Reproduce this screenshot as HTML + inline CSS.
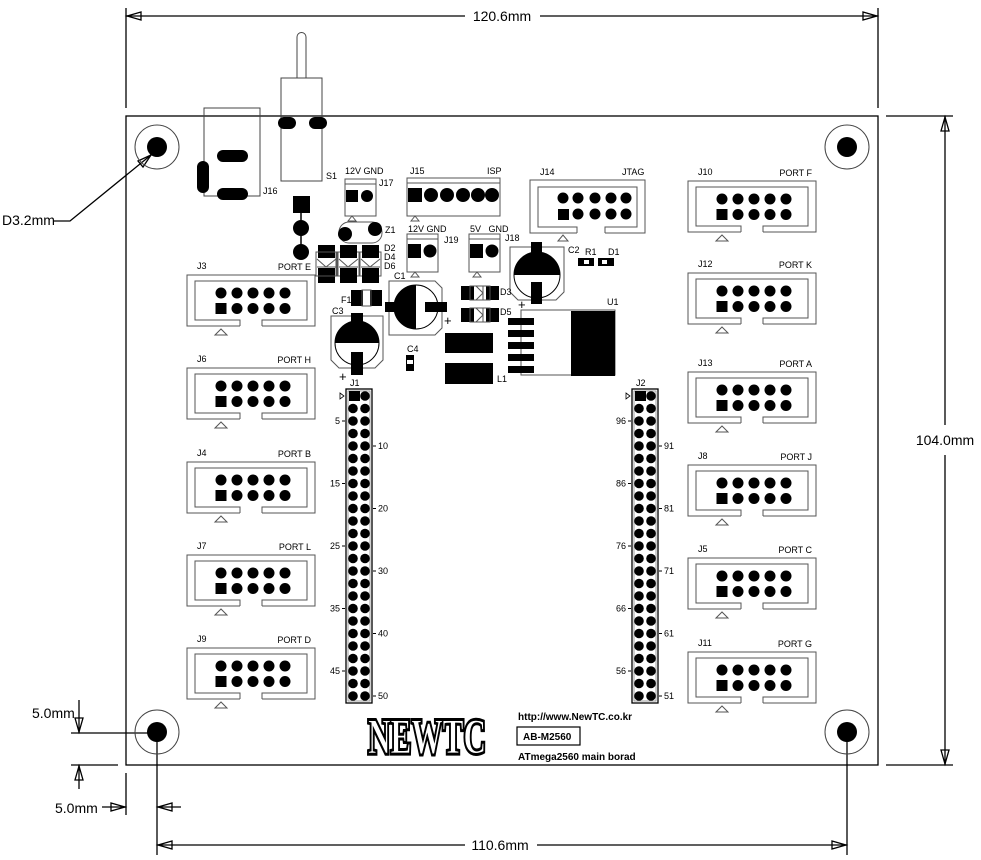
<!DOCTYPE html>
<html><head><meta charset="utf-8"><style>
html,body{margin:0;padding:0;background:#fff;}
svg{display:block;}
text{font-family:"Liberation Sans Narrow","Liberation Sans",sans-serif;fill:#000;}
.s{font-size:9px;}
.d{font-size:14px;}
</style></head><body>
<svg id="sv" width="981" height="860" viewBox="0 0 981 860" xmlns="http://www.w3.org/2000/svg">
<g fill="none" stroke="#000" stroke-width="1.3">
<!-- board -->
<rect x="126" y="116" width="752" height="649"/>
<!-- top dim -->
<line x1="126" y1="8" x2="126" y2="108"/><line x1="878" y1="8" x2="878" y2="108"/>
<line x1="126" y1="16" x2="465" y2="16"/><line x1="540" y1="16" x2="878" y2="16"/>
<path d="M127 16 L141 12 L141 20 Z"/><path d="M877 16 L863 12 L863 20 Z"/>
<!-- right dim -->
<line x1="886" y1="116" x2="953" y2="116"/><line x1="886" y1="765" x2="953" y2="765"/>
<line x1="945" y1="116" x2="945" y2="425"/><line x1="945" y1="455" x2="945" y2="765"/>
<path d="M945 117 L941 131 L949 131 Z"/><path d="M945 764 L941 750 L949 750 Z"/>
<!-- bottom dim -->
<line x1="157" y1="735" x2="157" y2="855"/><line x1="847" y1="735" x2="847" y2="855"/>
<line x1="157" y1="845" x2="465" y2="845"/><line x1="537" y1="845" x2="847" y2="845"/>
<path d="M158 845 L172 841 L172 849 Z"/><path d="M846 845 L832 841 L832 849 Z"/>
<!-- left dims -->
<line x1="71" y1="733" x2="157" y2="733"/><line x1="71" y1="765" x2="118" y2="765"/>
<line x1="79" y1="700" x2="79" y2="733"/><path d="M79 732 L75 718 L83 718 Z"/>
<line x1="79" y1="765" x2="79" y2="789"/><path d="M79 766 L75 780 L83 780 Z"/>
<line x1="126" y1="773" x2="126" y2="815"/>
<line x1="102" y1="807" x2="126" y2="807"/><path d="M125 807 L111 803 L111 811 Z"/>
<line x1="157" y1="807" x2="181" y2="807"/><path d="M158 807 L172 803 L172 811 Z"/>
<!-- D3.2 leader -->
<polyline points="54,221 70,221 151,155"/><path d="M151 155 L138 161 L143 167 Z"/>
</g>
<text class="d" x="502" y="21" text-anchor="middle">120.6mm</text>
<text class="d" x="945" y="445" text-anchor="middle">104.0mm</text>
<text class="d" x="500" y="850" text-anchor="middle">110.6mm</text>
<text class="d" x="32" y="718">5.0mm</text>
<text class="d" x="55" y="813">5.0mm</text>
<text class="d" x="2" y="225">D3.2mm</text>
<!-- holes -->
<g>
<circle cx="157" cy="147" r="22" fill="none" stroke="#444" stroke-width="1"/><circle cx="157" cy="147" r="10"/>
<circle cx="847" cy="147" r="22" fill="none" stroke="#444" stroke-width="1"/><circle cx="847" cy="147" r="10"/>
<circle cx="157" cy="732" r="22" fill="none" stroke="#444" stroke-width="1"/><circle cx="157" cy="732" r="10"/>
<circle cx="847" cy="732" r="22" fill="none" stroke="#444" stroke-width="1"/><circle cx="847" cy="732" r="10"/>
</g>
<!-- S1 -->
<g fill="none" stroke="#444" stroke-width="1">
<path d="M297 78 V37 A4.5 4.5 0 0 1 306 37 V78"/>
<rect x="281" y="78" width="41" height="103"/>
<rect x="204" y="108" width="56" height="88"/>
</g>
<rect x="278" y="117" width="18" height="12" rx="6"/><rect x="309" y="117" width="18" height="12" rx="6"/>
<rect x="217" y="150" width="31" height="12" rx="6"/><rect x="217" y="188" width="31" height="12" rx="6"/>
<rect x="197" y="161" width="12" height="32" rx="6"/>
<text class="s" x="326" y="179">S1</text><text class="s" x="263" y="194">J16</text>
<!-- vertical pads -->
<line x1="301" y1="204" x2="301" y2="251" stroke="#000" stroke-width="1.5"/>
<rect x="293" y="196" width="17" height="17"/><circle cx="301" cy="228" r="8"/><circle cx="301" cy="252" r="8"/>
<!-- J17 -->
<g fill="none" stroke="#555" stroke-width="1">
<rect x="345" y="179" width="31" height="37"/><line x1="345" y1="184" x2="376" y2="184"/>
<path d="M348 221 L352 216 L356 221 Z"/>
<rect x="339" y="222" width="43" height="21" rx="10"/>
<rect x="407" y="178" width="93" height="38"/><line x1="407" y1="183" x2="500" y2="183"/>
<path d="M411 221 L415 216 L419 221 Z"/>
<rect x="407" y="234" width="31" height="38"/><line x1="407" y1="239" x2="438" y2="239"/>
<path d="M411 277 L415 272 L419 277 Z"/>
<rect x="469" y="234" width="31" height="38"/><line x1="469" y1="239" x2="500" y2="239"/>
<path d="M473 277 L477 272 L481 277 Z"/>
</g>
<rect x="346" y="190" width="12" height="12"/><circle cx="367" cy="196" r="6"/>
<circle cx="345" cy="234" r="7"/><circle cx="375" cy="229" r="7"/>
<text class="s" x="345" y="174">12V GND</text><text class="s" x="379" y="186">J17</text><text class="s" x="385" y="233">Z1</text>
<rect x="408" y="188" width="14" height="14"/>
<circle cx="431" cy="195" r="7"/><circle cx="447" cy="195" r="7"/><circle cx="463" cy="195" r="7"/><circle cx="478" cy="195" r="7"/><circle cx="492" cy="195" r="7"/>
<text class="s" x="410" y="174">J15</text><text class="s" x="487" y="174">ISP</text>
<rect x="408" y="244" width="13" height="14"/><circle cx="430" cy="251" r="6.5"/>
<rect x="470" y="244" width="13" height="14"/><circle cx="492" cy="251" r="6.5"/>
<text class="s" x="408" y="232">12V GND</text><text class="s" x="444" y="243">J19</text>
<text class="s" x="470" y="232">5V&#160;&#160;&#160;GND</text><text class="s" x="505" y="241">J18</text>
<!-- D2 D4 D6 -->
<g id="diodes"></g>
<text class="s" x="384" y="251">D2</text><text class="s" x="384" y="260">D4</text><text class="s" x="384" y="269">D6</text>
<!-- J14 -->
<g fill="none" stroke="#555" stroke-width="1">
<path d="M577 233 H530 V180 H645 V233 H605"/>
<path d="M577 233 V227 H538 V187 H637 V227 H605 V233"/>
<path d="M558 241 L563 235 L568 241 Z"/>
</g>
<circle cx="563" cy="198" r="5.5"/><circle cx="578" cy="198" r="5.5"/><circle cx="595" cy="198" r="5.5"/><circle cx="611" cy="198" r="5.5"/><circle cx="626" cy="198" r="5.5"/>
<rect x="558" y="209" width="11" height="11"/><circle cx="578" cy="214" r="5.5"/><circle cx="595" cy="214" r="5.5"/><circle cx="611" cy="214" r="5.5"/><circle cx="626" cy="214" r="5.5"/>
<text class="s" x="540" y="175">J14</text><text class="s" x="622" y="175">JTAG</text>
<!-- C2 -->
<g fill="none" stroke="#555" stroke-width="1">
<path d="M510 247 H564 V292 L556 300 H518 L510 292 Z"/>
<path d="M389 281 H435 L442 288 V328 L435 335 H389 Z"/>
<path d="M331 316 H383 V360 L375 368 H339 L331 360 Z"/>
<rect x="521" y="310" width="94" height="65"/>
<rect x="316" y="252" width="20" height="24"/>
</g>
<circle cx="537" cy="275" r="23" fill="none" stroke="#000" stroke-width="1"/>
<path d="M514 275 A23 23 0 0 1 560 275 Z"/>
<rect x="531" y="242" width="11" height="23"/><rect x="531" y="282" width="11" height="22"/>
<text class="s" x="568" y="253">C2</text><text x="518" y="309" font-size="13">+</text>
<text class="s" x="585" y="255">R1</text><text class="s" x="608" y="255">D1</text>
<rect x="578" y="258" width="16" height="8"/><rect x="584" y="260" width="5" height="4" fill="#fff"/>
<rect x="598" y="258" width="16" height="8"/><rect x="602" y="260" width="5" height="4" fill="#fff"/>
<!-- U1 -->
<rect x="571" y="311" width="44" height="65"/>
<rect x="508" y="318" width="26" height="7"/><rect x="508" y="330" width="26" height="7"/><rect x="508" y="342" width="26" height="7"/><rect x="508" y="354" width="26" height="7"/><rect x="508" y="366" width="26" height="7"/>
<text class="s" x="607" y="305">U1</text>
<!-- D3 D5 -->
<g id="d35"></g>
<text class="s" x="500" y="295">D3</text><text class="s" x="500" y="315">D5</text>
<!-- C1 -->
<circle cx="416" cy="307" r="22" fill="none" stroke="#000" stroke-width="1"/>
<path d="M416 285 A22 22 0 0 0 416 329 Z"/>
<rect x="385" y="302" width="22" height="10"/><rect x="425" y="302" width="22" height="10"/>
<text class="s" x="394" y="279">C1</text><text x="444" y="325" font-size="13">+</text>
<!-- F1 -->
<rect x="351" y="290" width="12" height="16"/><rect x="370" y="290" width="12" height="16"/>
<rect x="362" y="290" width="9" height="16" fill="none" stroke="#555"/>
<text class="s" x="341" y="303">F1</text>
<!-- C3 -->
<circle cx="357" cy="343" r="22" fill="none" stroke="#000" stroke-width="1"/>
<path d="M335 343 A22 22 0 0 1 379 343 Z"/>
<rect x="351" y="313" width="12" height="23"/><rect x="351" y="352" width="12" height="23"/>
<text class="s" x="332" y="314">C3</text><text x="339" y="381" font-size="13">+</text>
<!-- C4 -->
<text class="s" x="407" y="352">C4</text>
<rect x="406" y="355" width="8" height="16"/><rect x="407" y="360" width="6" height="4" fill="#fff"/>
<!-- L1 -->
<rect x="445" y="333" width="48" height="51"/><rect x="445" y="353" width="48" height="10" fill="#fff"/>
<text class="s" x="497" y="382">L1</text>
<g id="gen"></g>
<!-- logo -->
<text x="427" y="753" text-anchor="middle" font-family="Liberation Serif,serif" font-weight="bold" font-size="50" textLength="118" lengthAdjust="spacingAndGlyphs" style="font-family:'Liberation Serif',serif;fill:#fff;stroke:#000;stroke-width:5;paint-order:stroke">NEWTC</text>
<text x="427" y="753" text-anchor="middle" font-weight="bold" font-size="50" textLength="118" lengthAdjust="spacingAndGlyphs" style="font-family:'Liberation Serif',serif;fill:none;stroke:#000;stroke-width:1">NEWTC</text>
<text x="518" y="720" style="font-family:'Liberation Sans',sans-serif;font-weight:bold;font-size:10px">http://www.NewTC.co.kr</text>
<rect x="517" y="727" width="63" height="18" fill="none" stroke="#000" stroke-width="1.2"/>
<text x="523" y="740" style="font-family:'Liberation Sans',sans-serif;font-weight:bold;font-size:10px">AB-M2560</text>
<text x="518" y="760" style="font-family:'Liberation Sans',sans-serif;font-weight:bold;font-size:10px">ATmega2560 main borad</text>
</svg>
<script>
var NS="http://www.w3.org/2000/svg";
var g=document.getElementById("gen");
function el(t,a,p,txt){var e=document.createElementNS(NS,t);for(var k in a)e.setAttribute(k,a[k]);if(txt)e.textContent=txt;(p||g).appendChild(e);return e;}
function hdr(x0,y0,lab,port){
 var st={fill:"none",stroke:"#555","stroke-width":"1"};
 var a=Object.assign({d:"M"+(x0+53)+" "+(y0+51)+" H"+x0+" V"+y0+" H"+(x0+128)+" V"+(y0+51)+" H"+(x0+75)},st);el("path",a);
 a=Object.assign({d:"M"+(x0+53)+" "+(y0+51)+" V"+(y0+45)+" H"+(x0+8)+" V"+(y0+6)+" H"+(x0+120)+" V"+(y0+45)+" H"+(x0+75)+" V"+(y0+51)},st);el("path",a);
 el("path",Object.assign({d:"M"+(x0+28)+" "+(y0+60)+" L"+(x0+34)+" "+(y0+54)+" L"+(x0+40)+" "+(y0+60)+" Z"},st));
 for(var i=0;i<5;i++){var x=x0+34+16*i;el("circle",{cx:x,cy:y0+18,r:5.5});
  if(i==0)el("rect",{x:x-5.5,y:y0+28,width:11,height:11});else el("circle",{cx:x,cy:y0+33.5,r:5.5});}
 el("text",{"class":"s",x:x0+10,y:y0-6},null,lab);
 el("text",{"class":"s",x:x0+124,y:y0-5,"text-anchor":"end"},null,port);
}
var L=[[275,"J3","PORT E"],[368,"J6","PORT H"],[462,"J4","PORT B"],[555,"J7","PORT L"],[648,"J9","PORT D"]];
L.forEach(function(c){hdr(187,c[0],c[1],c[2]);});
var R=[[181,"J10","PORT F"],[273,"J12","PORT K"],[372,"J13","PORT A"],[465,"J8","PORT J"],[558,"J5","PORT C"],[652,"J11","PORT G"]];
R.forEach(function(c){hdr(688,c[0],c[1],c[2]);});
function strip(x0,lab,ll,rl){
 el("rect",{x:x0,y:389,width:26,height:314,fill:"none",stroke:"#000","stroke-width":"1.3"});
 el("rect",{x:x0+2,y:391,width:22,height:310,fill:"none",stroke:"#888","stroke-width":"0.8"});
 el("text",{"class":"s",x:x0+4,y:386},null,lab);
 for(var r=0;r<25;r++){var y=396+12.5*r;
  if(r==0)el("rect",{x:x0+3,y:y-5,width:11,height:10});else el("circle",{cx:x0+7,cy:y,r:4.8});
  el("circle",{cx:x0+19,cy:y,r:4.8});}
 el("path",{d:"M"+(x0-6)+" 393 L"+(x0-2)+" 396 L"+(x0-6)+" 399 Z",fill:"none",stroke:"#000","stroke-width":"0.8"});
 for(var k=0;k<5;k++){var yl=396+12.5*(2+5*k),yr=396+12.5*(4+5*k);
  el("line",{x1:x0-4,y1:yl,x2:x0-1,y2:yl,stroke:"#000"});
  el("text",{"class":"s",x:x0-6,y:yl+3,"text-anchor":"end"},null,ll[k]);
  el("line",{x1:x0+27,y1:yr,x2:x0+30,y2:yr,stroke:"#000"});
  el("text",{"class":"s",x:x0+32,y:yr+3},null,rl[k]);}
}
strip(346,"J1",["5","15","25","35","45"],["10","20","30","40","50"]);
strip(632,"J2",["96","86","76","66","56"],["91","81","71","61","51"]);
var dg=document.getElementById("diodes");
[318,340,362].forEach(function(x){
 el("rect",{x:x-2,y:252,width:21,height:24,fill:"none",stroke:"#555","stroke-width":"1"},dg);
 el("path",{d:"M"+(x-1)+" 259 L"+(x+8)+" 267 L"+(x+18)+" 259 M"+(x-1)+" 267 H"+(x+18),fill:"none",stroke:"#555","stroke-width":"1"},dg);
 el("rect",{x:x,y:245,width:17,height:13},dg);el("rect",{x:x,y:268,width:17,height:15},dg);
});
var d5=document.getElementById("d35");
[286,308].forEach(function(y){
 el("rect",{x:461,y:y,width:13,height:14},d5);el("rect",{x:486,y:y,width:13,height:14},d5);
 el("rect",{x:470,y:y,width:20,height:14,fill:"none",stroke:"#555","stroke-width":"1"},d5);
 el("path",{d:"M476 "+y+" L483 "+(y+7)+" L476 "+(y+14)+" M483 "+y+" V"+(y+14),fill:"none",stroke:"#555","stroke-width":"1"},d5);
});
</script>
</body></html>
